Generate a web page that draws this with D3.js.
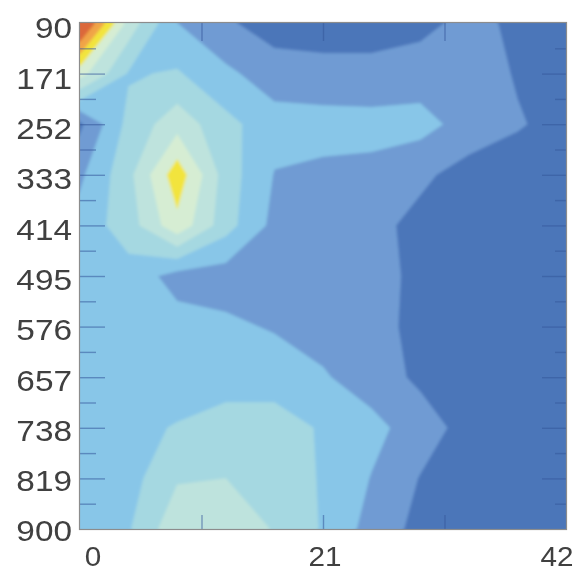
<!DOCTYPE html>
<html><head><meta charset="utf-8">
<script src="https://cdn.jsdelivr.net/npm/d3@7"></script>
<style>html,body{margin:0;padding:0;background:#fff;} svg{display:block}</style>
</head><body><svg id="chart" width="576" height="572"></svg>
<script>
// ---- data ----
const xValues = [0, 4.2, 8.4, 12.6, 16.8, 21, 25.2, 29.4, 33.6, 37.8, 42];
const yValues = [90, 171, 252, 333, 414, 495, 576, 657, 738, 819, 900];
const xTickLabels = [0, 21, 42];
const yTickLabels = [90, 171, 252, 333, 414, 495, 576, 657, 738, 819, 900];

const z90  = [9.5, 4.6, 2.0, 1.15, 0.5, 0.4, 0.4, 0.7, 1.3, 0.8, 0.5];
const z171 = [5.4, 2.9, 3.1, 2.2, 1.5, 1.4, 1.4, 1.5, 1.6, 0.9, 0.5];
const z252 = [0.8, 3.3, 4.6, 3.3, 2.4, 2.35, 2.3, 2.35, 1.6, 1.1, 0.6];
const z333 = [1.8, 3.7, 6.6, 3.5, 1.95, 1.8, 1.75, 1.2, 0.6, 0.4, 0.35];
const z414 = [2.4, 3.5, 5.7, 3.4, 1.7, 1.6, 1.3, 0.7, 0.4, 0.35, 0.3];
const z495 = [2.5, 2.6, 1.6, 1.5, 1.4, 1.3, 1.3, 0.8, 0.5, 0.4, 0.35];
const z576 = [2.4, 2.5, 2.4, 2.2, 1.9, 1.6, 1.3, 0.75, 0.5, 0.4, 0.35];
const z657 = [2.4, 2.5, 2.6, 2.7, 2.6, 2.1, 1.5, 0.8, 0.5, 0.4, 0.35];
const z738 = [2.5, 2.8, 3.05, 3.3, 3.4, 2.9, 2.3, 1.5, 0.6, 0.4, 0.35];
const z819 = [2.3, 2.6, 3.9, 4.0, 3.6, 2.9, 1.95, 0.95, 0.5, 0.4, 0.35];
const z900 = [2.4, 2.9, 4.7, 4.5, 3.95, 2.9, 1.6, 0.7, 0.5, 0.4, 0.35];

const levels = [1, 2, 3, 4, 5, 6, 7, 8];
const levelColors = ["#4b76b9", "#6f9bd3", "#88c6e8", "#a5d8e1", "#bee3dd", "#d6edd3", "#f2e43e", "#f0a446", "#db683b"];

// ---- layout ----
const svg = d3.select("#chart");
const plot = {left: 80, right: 566, top: 23, bottom: 529};

const x = d3.scaleLinear().domain([0, 42]).range([plot.left, plot.right]);
const y = d3.scaleLinear().domain([90, 900]).range([plot.top, plot.bottom]);
const xLabel = d3.scaleLinear().domain([0, 42]).range([93, 557]);
const yLabel = d3.scaleLinear().domain([90, 900]).range([28, 531]);

const grid = [z90, z171, z252, z333, z414, z495, z576, z657, z738, z819, z900];
const n = xValues.length, m = yValues.length;
const values = grid.flat();

const gx = d3.scaleLinear().domain([0.5, n - 0.5]).range([x(xValues[0]), x(xValues[n - 1])]);
const gy = d3.scaleLinear().domain([0.5, m - 0.5]).range([y(yValues[0]), y(yValues[m - 1])]);
const path = d3.geoPath(d3.geoTransform({
  point(px, py) { this.stream.point(gx(px), gy(py)); }
}));

const defs = svg.append("defs");
defs.append("clipPath").attr("id", "clip").append("rect")
  .attr("x", plot.left).attr("y", plot.top)
  .attr("width", plot.right - plot.left).attr("height", plot.bottom - plot.top);
defs.append("filter").attr("id", "soft").attr("x", "-5%").attr("y", "-5%").attr("width", "110%").attr("height", "110%")
  .append("feGaussianBlur").attr("stdDeviation", 1.4);
defs.append("filter").attr("id", "softText")
  .append("feGaussianBlur").attr("stdDeviation", 0.5);

const field = svg.append("g").attr("clip-path", "url(#clip)").append("g").attr("filter", "url(#soft)");
field.append("rect")
  .attr("x", plot.left - 5).attr("y", plot.top - 5)
  .attr("width", plot.right - plot.left + 10).attr("height", plot.bottom - plot.top + 10)
  .attr("fill", levelColors[0]);

const contours = d3.contours().size([n, m]).thresholds(levels)(values);
field.selectAll("path.band").data(contours).join("path")
  .attr("class", "band")
  .attr("d", path)
  .attr("fill", (d, i) => levelColors[i + 1])
  .attr("stroke", (d, i) => levelColors[i + 1])
  .attr("stroke-width", 0.6);

// ---- ticks (inside) ----
const tickStroke = "#34589a";
const yMajor = yTickLabels.slice(1, -1);
const yMinor = d3.pairs(yTickLabels).map(([a, b]) => (a + b) / 2);
const xMinor = [10.5, 21, 31.5];

function styleTicks(g) {
  g.select(".domain").remove();
  g.selectAll("text").remove();
  g.selectAll("line").attr("stroke", tickStroke).attr("stroke-width", 1.4).attr("opacity", 0.55);
}
svg.append("g").attr("transform", `translate(${plot.left},0)`)
  .call(d3.axisLeft(y).tickValues(yMajor).tickSize(-25)).call(styleTicks);
svg.append("g").attr("transform", `translate(${plot.left},0)`)
  .call(d3.axisLeft(y).tickValues(yMinor).tickSize(-16)).call(styleTicks);
svg.append("g").attr("transform", `translate(${plot.right},0)`)
  .call(d3.axisRight(y).tickValues(yMajor).tickSize(-24)).call(styleTicks);
svg.append("g").attr("transform", `translate(${plot.right},0)`)
  .call(d3.axisRight(y).tickValues(yMinor).tickSize(-11)).call(styleTicks);
svg.append("g").attr("transform", `translate(0,${plot.bottom})`)
  .call(d3.axisBottom(x).tickValues(xMinor).tickSize(-14)).call(styleTicks);
svg.append("g").attr("transform", `translate(0,${plot.top})`)
  .call(d3.axisTop(x).tickValues(xMinor).tickSize(-18)).call(styleTicks);

// frame
svg.append("rect")
  .attr("x", plot.left - 0.5).attr("y", plot.top - 0.5)
  .attr("width", plot.right - plot.left + 1).attr("height", plot.bottom - plot.top + 1)
  .attr("fill", "none").attr("stroke", "#8c8c8c").attr("stroke-width", 1.2);

// ---- labels ----
const labelFont = "'Liberation Sans', Arial, Helvetica, sans-serif";
const yl = svg.append("g").attr("filter", "url(#softText)");
yl.selectAll("text").data(yTickLabels).join("text")
  .attr("transform", d => `translate(72,${yLabel(d)}) scale(1.15,1)`)
  .attr("text-anchor", "end").attr("dy", "0.36em")
  .attr("font-family", labelFont).attr("font-size", 29).attr("fill", "#404040")
  .text(d => d);
const xl = svg.append("g").attr("filter", "url(#softText)");
xl.selectAll("text").data(xTickLabels).join("text")
  .attr("transform", d => `translate(${xLabel(d)},566) scale(1.06,1)`)
  .attr("text-anchor", "middle")
  .attr("font-family", labelFont).attr("font-size", 28).attr("fill", "#404040")
  .text(d => d);
</script>
</body></html>
